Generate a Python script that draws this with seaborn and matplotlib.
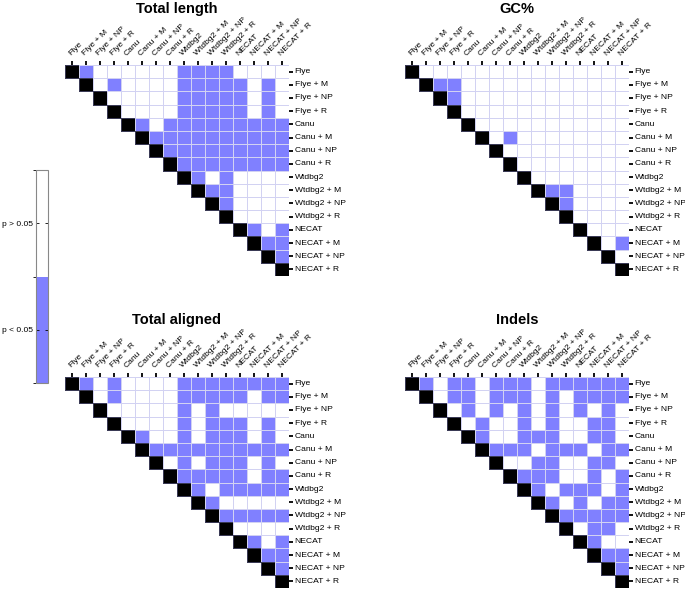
import numpy as np
import pandas as pd
import matplotlib
matplotlib.use("Agg")
import matplotlib.pyplot as plt
import seaborn as sns
from matplotlib.colors import ListedColormap, BoundaryNorm, to_rgba
from matplotlib.cm import ScalarMappable

assemblies = ["Flye", "Flye + M", "Flye + NP", "Flye + R",
              "Canu", "Canu + M", "Canu + NP", "Canu + R",
              "Wtdbg2", "Wtdbg2 + M", "Wtdbg2 + NP", "Wtdbg2 + R",
              "NECAT", "NECAT + M", "NECAT + NP", "NECAT + R"]

# Upper triangle rows (columns i+1 .. 15); 1 = p < 0.05, 0 = p > 0.05
total_length_sig = ["100000011110000", "01000011111010", "0000011111010",
                    "000011111010", "10111111111", "1111111111", "111111111",
                    "11111111", "1010000", "110000", "10000", "0000", "101",
                    "11", "1"]
gc_sig = ["000000000000000", "11000000000000", "1000000000000",
          "000000000000", "00000000000", "0100000000", "000000000",
          "00000000", "0000000", "110000", "10000", "0000", "000", "01", "0"]
total_aligned_sig = ["101000011111111", "01000011111011", "0000010100000",
                     "000010111010", "10010111010", "1111111111", "010111010",
                     "11111011", "1011111", "100000", "11111", "0000", "101",
                     "11", "1"]
indels_sig = ["101101110111111", "01101110101111", "0101010101010",
              "010010100110", "10011100110", "1110111011", "001100110",
              "11100101", "1011101", "101011", "11111", "0110", "100",
              "11", "1"]

titles = ["Total length", "GC%", "Total aligned", "Indels"]
panels = [total_length_sig, gc_sig, total_aligned_sig, indels_sig]
legend_labels = ["p < 0.05", "p > 0.05"]

BLUE = "#8080FF"
GRID = "#D2D2F2"
DIAG_EDGE = "#3A3A55"

plt.rcParams["font.family"] = ["Liberation Sans", "DejaVu Sans"]


def build_frame(rows):
    n = len(assemblies)
    m = np.full((n, n), np.nan)
    for i in range(n):
        m[i, i] = 2
        if i < n - 1:
            for k, ch in enumerate(rows[i]):
                m[i, i + 1 + k] = int(ch)
    return pd.DataFrame(m, index=assemblies, columns=assemblies)


fig = plt.figure(figsize=(6.85, 5.89), dpi=100)
cmap = ListedColormap(["#FFFFFF", BLUE, "#000000"])

W = 224 / 685
H = 211 / 589
positions = [(65 / 685, 1 - 276 / 589), (405 / 685, 1 - 276 / 589),
             (65 / 685, 1 - 588 / 589), (405 / 685, 1 - 588 / 589)]
title_pos = [(177 / 685, 1 - 9 / 589), (517 / 685, 1 - 9 / 589),
             (177 / 685, 1 - 320 / 589), (517 / 685, 1 - 320 / 589)]

for rows, title, (x0, y0), (tx, ty) in zip(panels, titles, positions, title_pos):
    ax = fig.add_axes([x0, y0, W, H])
    df = build_frame(rows)
    mask = df.isna()
    sns.heatmap(df, mask=mask, cmap=cmap, vmin=-0.5, vmax=2.5, cbar=False,
                linewidths=0.6, linecolor=GRID, square=False, ax=ax,
                xticklabels=assemblies, yticklabels=assemblies)
    mesh = ax.collections[0]
    vals = df.values.ravel()
    edges = []
    for v in vals:
        if np.isnan(v):
            edges.append((0, 0, 0, 0))
        elif v == 2:
            edges.append(to_rgba(DIAG_EDGE))
        else:
            edges.append(to_rgba(GRID))
    mesh.set_edgecolor(edges)
    ax.xaxis.tick_top()
    ax.yaxis.tick_right()
    ax.tick_params(axis="x", top=True, bottom=False, labeltop=True,
                   labelbottom=False, length=3, width=1.3, pad=2.5,
                   labelsize=6.1, color="black")
    ax.tick_params(axis="y", right=True, left=False, labelright=True,
                   labelleft=False, length=3, width=1.3, pad=1,
                   labelsize=6.1, color="black")
    plt.setp(ax.get_xticklabels(), rotation=45, ha="left",
             rotation_mode="anchor")
    plt.setp(ax.get_yticklabels(), rotation=0, ha="left", va="center")
    ax.set_xlabel("")
    ax.set_ylabel("")
    fig.text(tx, ty, title, ha="center", va="center", fontsize=10.5,
             fontweight="bold")

# legend bar
cax = fig.add_axes([36 / 685, 1 - 383 / 589, 12 / 685, 213 / 589])
lcmap = ListedColormap([BLUE, "#FFFFFF"])
norm = BoundaryNorm([0, 1, 2], lcmap.N)
cb = fig.colorbar(ScalarMappable(norm=norm, cmap=lcmap), cax=cax,
                  ticks=[0.5, 1.5])
cb.set_ticklabels(legend_labels)
cax.yaxis.set_ticks_position("left")
cax.tick_params(axis="y", direction="in", length=2, width=0.6, pad=2,
                labelsize=6.0, left=True, right=True, labelleft=True,
                labelright=False)
cb.outline.set_edgecolor("#888888")
cb.outline.set_linewidth(0.8)

fig.savefig("out.png", dpi=100)
